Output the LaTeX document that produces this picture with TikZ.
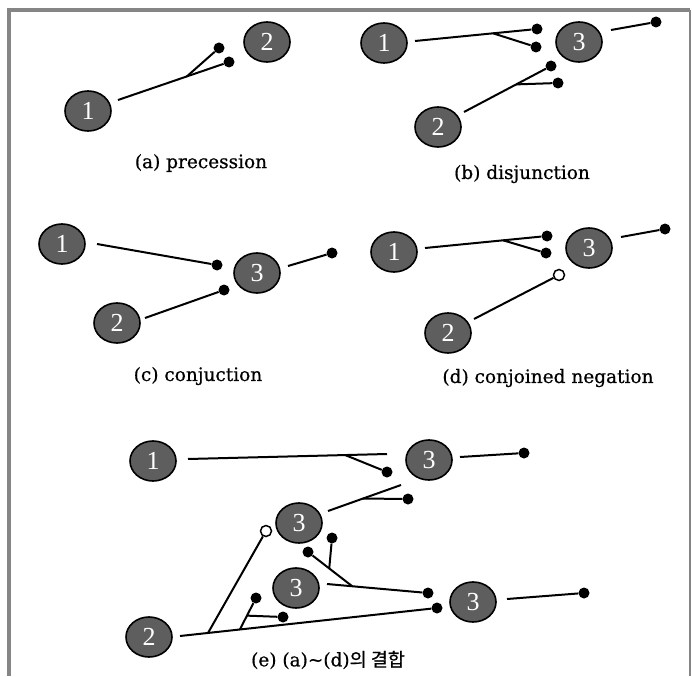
\documentclass[tikz,border=0pt]{standalone}
\usepackage{fontspec}
\setmainfont{DejaVu Serif}
\newfontfamily\capfont[FakeBold=0.6]{DejaVu Serif}
\newfontfamily\numfont{Liberation Serif}
\newfontfamily\krfont[FakeBold=0.6]{Noto Sans CJK KR}
\usetikzlibrary{shapes.geometric,calc}
\definecolor{framegray}{HTML}{858585}
\definecolor{unitgray}{HTML}{5E5E5E}
\tikzset{
  unit/.style={ellipse, draw=black, line width=1.6pt, fill=unitgray,
    minimum width=46pt, minimum height=40pt, inner sep=0pt, text=white,
    font=\numfont\fontsize{26}{26}\selectfont},
  link/.style={line width=2pt, draw=black},
  bead/.style={circle, fill=black, inner sep=0pt, minimum size=11pt},
  openbead/.style={circle, draw=black, fill=white, line width=1.5pt,
    inner sep=0pt, minimum size=11pt},
  caption/.style={font=\capfont\fontsize{18.5}{20}\selectfont},
  border/.style={draw=framegray, line width=3.2pt}
}
\begin{document}
\begin{tikzpicture}[x=1pt,y=-1pt]
\useasboundingbox (0,0) rectangle (692,676);
\fill[white] (0,0) rectangle (692,676);
% outer frame
\draw[border] (9,676) -- (9,10) -- (690,10);
\draw[framegray, line width=2pt] (689.5,10) -- (689.5,676);

% ---------- (a) precession ----------
\node[unit] (a1) at (88,111) {1};
\node[unit] (a2) at (267,42) {2};
\node[bead] (aD1) at (229,62) {};
\node[bead] (aD2) at (219,48) {};
\coordinate (a1s) at ([shift={(30,-11)}]a1.center);
\coordinate (a1b) at ($(a1s)!0.62!(aD1)$);
\draw[link] (a1s) -- (aD1);
\draw[link] (a1b) -- (aD2);
\node[caption] (capA) at (201,163) {(a) precession};

% ---------- (b) disjunction ----------
\node[unit] (b1) at (384,43) {1};
\node[unit] (b3) at (579,42) {3};
\node[unit] (b2) at (438,127) {2};
\node[bead] (bD1) at (537,29) {};
\node[bead] (bD2) at (536,47) {};
\node[bead] (bD3) at (551,66) {};
\node[bead] (bD4) at (558,83) {};
\node[bead] (bD5) at (656,22) {};
\coordinate (b1s) at ([shift={(31,-2)}]b1.center);
\coordinate (b2s) at ([shift={(26,-15)}]b2.center);
\coordinate (b3s) at ([shift={(32,-12)}]b3.center);
\coordinate (b1b) at ($(b1s)!0.64!(bD1)$);
\coordinate (b2b) at ($(b2s)!0.60!(bD3)$);
\draw[link] (b1s) -- (bD1);
\draw[link] (b1b) -- (bD2);
\draw[link] (b2s) -- (bD3);
\draw[link] (b2b) -- (bD4);
\draw[link] (b3s) -- (bD5);
\node[caption] (capB) at (522,174) {(b) disjunction};

% ---------- (c) conjunction ----------
\node[unit] (c1) at (62,244) {1};
\node[unit] (c3) at (257,273) {3};
\node[unit] (c2) at (117,323) {2};
\node[bead] (cD1) at (217,265) {};
\node[bead] (cD2) at (224,290) {};
\node[bead] (cD3) at (332,253) {};
\coordinate (c1s) at ([shift={(35,0)}]c1.center);
\coordinate (c2s) at ([shift={(28,-5)}]c2.center);
\coordinate (c3s) at ([shift={(31,-7)}]c3.center);
\draw[link] (c1s) -- (cD1);
\draw[link] (c2s) -- (cD2);
\draw[link] (c3s) -- (cD3);
\node[caption] (capC) at (198,376) {(c) conjuction};

% ---------- (d) conjoined negation ----------
\node[unit] (d1) at (394,252) {1};
\node[unit] (d3) at (589,248) {3};
\node[unit] (d2) at (448,333) {2};
\node[bead] (dD1) at (547,236) {};
\node[bead] (dD2) at (546,253) {};
\node[bead] (dD3) at (665,229) {};
\node[openbead] (dO) at (559,275) {};
\coordinate (d1s) at ([shift={(31,-4)}]d1.center);
\coordinate (d2s) at ([shift={(26,-14)}]d2.center);
\coordinate (d3s) at ([shift={(32,-11)}]d3.center);
\coordinate (d1b) at ($(d1s)!0.64!(dD1)$);
\draw[link] (d1s) -- (dD1);
\draw[link] (d1b) -- (dD2);
\draw[link] (d3s) -- (dD3);
\draw[link] (d2s) -- (dO);
\node[caption] (capD) at (548,378) {(d) conjoined negation};

% ---------- (e) combination ----------
\node[unit] (e1) at (153,461) {1};
\node[unit] (e3t) at (429,460) {3};
\node[unit] (e3a) at (299,523) {3};
\node[unit] (e3b) at (296,588) {3};
\node[unit] (e3r) at (473,602) {3};
\node[unit] (e2) at (149,637) {2};
\node[bead] (eD1) at (387,472) {};
\node[bead] (eD2) at (524,453) {};
\node[bead] (eD3) at (408,499) {};
\node[bead] (eD4) at (428,593) {};
\node[bead] (eD5) at (308,552) {};
\node[bead] (eD6) at (332,538) {};
\node[bead] (eD7) at (584,593) {};
\node[bead] (eD8) at (437,608) {};
\node[bead] (eD9) at (256,598) {};
\node[bead] (eD10) at (283,617) {};
\node[openbead] (eO) at (266,531) {};
\coordinate (e1s) at ([shift={(35,-2)}]e1.center);
\coordinate (e3ts) at ([shift={(31,-3)}]e3t.center);
\coordinate (e3as) at ([shift={(29,-12)}]e3a.center);
\coordinate (e3bs) at ([shift={(31,-4)}]e3b.center);
\coordinate (e3rs) at ([shift={(34,-3)}]e3r.center);
\coordinate (e2s) at ([shift={(31,-1)}]e2.center);
\coordinate (e1end) at (387,454);
\coordinate (e3aend) at (401,485);
% unit 1 towards the upper unit 3, with its side branch
\coordinate (e1b) at ($(e1s)!0.79!(e1end)$);
\draw[link] (e1s) -- (e1end);
\draw[link] (e1b) -- (eD1);
% upper middle unit 3
\coordinate (e3ab) at ($(e3as)!0.48!(e3aend)$);
\draw[link] (e3as) -- (e3aend);
\draw[link] (e3ab) -- (eD3);
% upper right unit 3
\draw[link] (e3ts) -- (eD2);
% lower middle unit 3
\coordinate (e3bb) at ($(e3bs)!0.25!(eD4)$);
\coordinate (e3bc) at ($(e3bb)!0.52!(eD5)$);
\draw[link] (e3bs) -- (eD4);
\draw[link] (e3bb) -- (eD5);
\draw[link] (e3bc) -- (eD6);
% lower right unit 3
\draw[link] (e3rs) -- (eD7);
% unit 2 and its branches
\coordinate (e2b) at ($(e2s)!0.109!(eD8)$);
\coordinate (e2c) at ($(e2s)!0.233!(eD8)$);
\coordinate (e2d) at ($(e2c)!0.44!(eD9)$);
\draw[link] (e2s) -- (eD8);
\draw[link] (e2b) -- (eO);
\draw[link] (e2c) -- (eD9);
\draw[link] (e2d) -- (eD10);
\node[caption] (capE) at (328,660) {(e) (a)\textasciitilde(d){\krfont 의 결합}};
\end{tikzpicture}
\end{document}
